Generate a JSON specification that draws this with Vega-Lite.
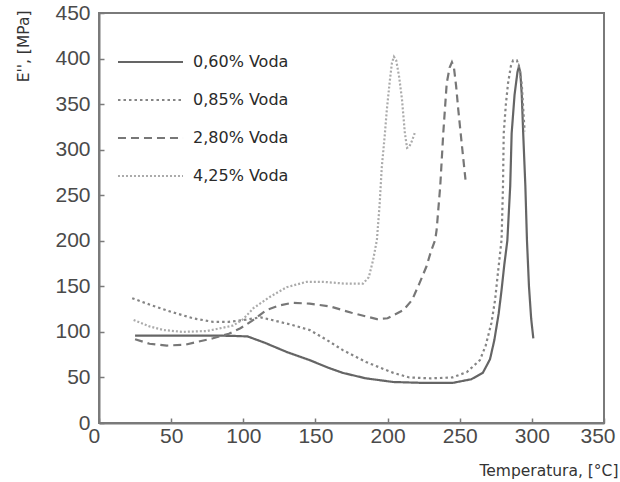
{
  "$schema": "https://vega.github.io/schema/vega-lite/v6.json",
  "autosize": "none",
  "padding": {"left": 99, "top": 13, "right": 16, "bottom": 59},
  "width": 505,
  "height": 410,
  "background": "white",
  "config": {
    "view": {"stroke": "#7a7a7a", "strokeWidth": 2},
    "axis": {"grid": false, "domainColor": "#7a7a7a", "domainWidth": 2, "tickColor": "#7a7a7a", "tickWidth": 1.5, "tickSize": -5, "labelFont": "Liberation Sans", "labelFontSize": 21, "labelColor": "#4a4a4a", "titleFont": "DejaVu Sans", "titleFontSize": 15.5, "titleFontWeight": "normal", "titleColor": "#333333"}
  },
  "data": {"values": [
    {"s": "0,60% Voda", "x": 25, "y": 96}, {"s": "0,60% Voda", "x": 40, "y": 96}, {"s": "0,60% Voda", "x": 60, "y": 96}, {"s": "0,60% Voda", "x": 80, "y": 96}, {"s": "0,60% Voda", "x": 95, "y": 95.5}, {"s": "0,60% Voda", "x": 103, "y": 95}, {"s": "0,60% Voda", "x": 115, "y": 88}, {"s": "0,60% Voda", "x": 130, "y": 78}, {"s": "0,60% Voda", "x": 146, "y": 69}, {"s": "0,60% Voda", "x": 160, "y": 60}, {"s": "0,60% Voda", "x": 169, "y": 55}, {"s": "0,60% Voda", "x": 185, "y": 49}, {"s": "0,60% Voda", "x": 204, "y": 45}, {"s": "0,60% Voda", "x": 225, "y": 44}, {"s": "0,60% Voda", "x": 245, "y": 44}, {"s": "0,60% Voda", "x": 258, "y": 48}, {"s": "0,60% Voda", "x": 266, "y": 55}, {"s": "0,60% Voda", "x": 271, "y": 70}, {"s": "0,60% Voda", "x": 274, "y": 91}, {"s": "0,60% Voda", "x": 277, "y": 120}, {"s": "0,60% Voda", "x": 279, "y": 146}, {"s": "0,60% Voda", "x": 281, "y": 175}, {"s": "0,60% Voda", "x": 283, "y": 200}, {"s": "0,60% Voda", "x": 285, "y": 260}, {"s": "0,60% Voda", "x": 286, "y": 318}, {"s": "0,60% Voda", "x": 288, "y": 360}, {"s": "0,60% Voda", "x": 290, "y": 385}, {"s": "0,60% Voda", "x": 291, "y": 391}, {"s": "0,60% Voda", "x": 292, "y": 385}, {"s": "0,60% Voda", "x": 293, "y": 360}, {"s": "0,60% Voda", "x": 294, "y": 318}, {"s": "0,60% Voda", "x": 295.5, "y": 260}, {"s": "0,60% Voda", "x": 296.6, "y": 201}, {"s": "0,60% Voda", "x": 298, "y": 150}, {"s": "0,60% Voda", "x": 299.5, "y": 115}, {"s": "0,60% Voda", "x": 301, "y": 93},
    {"s": "0,85% Voda", "x": 23, "y": 137}, {"s": "0,85% Voda", "x": 35, "y": 130}, {"s": "0,85% Voda", "x": 50, "y": 122}, {"s": "0,85% Voda", "x": 65, "y": 115}, {"s": "0,85% Voda", "x": 79, "y": 111}, {"s": "0,85% Voda", "x": 90, "y": 111}, {"s": "0,85% Voda", "x": 100, "y": 113}, {"s": "0,85% Voda", "x": 108, "y": 115}, {"s": "0,85% Voda", "x": 112, "y": 116}, {"s": "0,85% Voda", "x": 120, "y": 113}, {"s": "0,85% Voda", "x": 133, "y": 108}, {"s": "0,85% Voda", "x": 146, "y": 102}, {"s": "0,85% Voda", "x": 158, "y": 91}, {"s": "0,85% Voda", "x": 169, "y": 80}, {"s": "0,85% Voda", "x": 185, "y": 67}, {"s": "0,85% Voda", "x": 204, "y": 55}, {"s": "0,85% Voda", "x": 215, "y": 50}, {"s": "0,85% Voda", "x": 230, "y": 49}, {"s": "0,85% Voda", "x": 245, "y": 50}, {"s": "0,85% Voda", "x": 255, "y": 56}, {"s": "0,85% Voda", "x": 264, "y": 69}, {"s": "0,85% Voda", "x": 268, "y": 85}, {"s": "0,85% Voda", "x": 272, "y": 110}, {"s": "0,85% Voda", "x": 274.5, "y": 135}, {"s": "0,85% Voda", "x": 276.5, "y": 165}, {"s": "0,85% Voda", "x": 279, "y": 201}, {"s": "0,85% Voda", "x": 280, "y": 260}, {"s": "0,85% Voda", "x": 280.5, "y": 318}, {"s": "0,85% Voda", "x": 282, "y": 350}, {"s": "0,85% Voda", "x": 283.5, "y": 373}, {"s": "0,85% Voda", "x": 285.5, "y": 392}, {"s": "0,85% Voda", "x": 287, "y": 398}, {"s": "0,85% Voda", "x": 289.6, "y": 398}, {"s": "0,85% Voda", "x": 291, "y": 392}, {"s": "0,85% Voda", "x": 293, "y": 372}, {"s": "0,85% Voda", "x": 294, "y": 345}, {"s": "0,85% Voda", "x": 295, "y": 320},
    {"s": "2,80% Voda", "x": 25, "y": 92}, {"s": "2,80% Voda", "x": 35, "y": 87}, {"s": "2,80% Voda", "x": 47, "y": 85}, {"s": "2,80% Voda", "x": 60, "y": 86}, {"s": "2,80% Voda", "x": 79, "y": 93}, {"s": "2,80% Voda", "x": 90, "y": 98}, {"s": "2,80% Voda", "x": 98, "y": 104}, {"s": "2,80% Voda", "x": 106, "y": 112}, {"s": "2,80% Voda", "x": 116, "y": 124}, {"s": "2,80% Voda", "x": 125, "y": 129}, {"s": "2,80% Voda", "x": 134, "y": 132}, {"s": "2,80% Voda", "x": 146, "y": 131}, {"s": "2,80% Voda", "x": 160, "y": 128}, {"s": "2,80% Voda", "x": 175, "y": 121}, {"s": "2,80% Voda", "x": 192.6, "y": 114}, {"s": "2,80% Voda", "x": 200, "y": 115}, {"s": "2,80% Voda", "x": 211, "y": 124}, {"s": "2,80% Voda", "x": 217, "y": 135}, {"s": "2,80% Voda", "x": 222, "y": 153}, {"s": "2,80% Voda", "x": 227, "y": 172}, {"s": "2,80% Voda", "x": 230, "y": 188}, {"s": "2,80% Voda", "x": 233, "y": 201}, {"s": "2,80% Voda", "x": 234, "y": 212}, {"s": "2,80% Voda", "x": 236.5, "y": 260}, {"s": "2,80% Voda", "x": 238.6, "y": 318}, {"s": "2,80% Voda", "x": 241, "y": 373}, {"s": "2,80% Voda", "x": 243, "y": 390}, {"s": "2,80% Voda", "x": 244.6, "y": 396}, {"s": "2,80% Voda", "x": 246, "y": 390}, {"s": "2,80% Voda", "x": 247.5, "y": 370}, {"s": "2,80% Voda", "x": 249, "y": 344}, {"s": "2,80% Voda", "x": 251.5, "y": 305}, {"s": "2,80% Voda", "x": 254, "y": 267},
    {"s": "4,25% Voda", "x": 24, "y": 113}, {"s": "4,25% Voda", "x": 35, "y": 106}, {"s": "4,25% Voda", "x": 45, "y": 102}, {"s": "4,25% Voda", "x": 58, "y": 100}, {"s": "4,25% Voda", "x": 75, "y": 101}, {"s": "4,25% Voda", "x": 93, "y": 107}, {"s": "4,25% Voda", "x": 100, "y": 114}, {"s": "4,25% Voda", "x": 107, "y": 126}, {"s": "4,25% Voda", "x": 118, "y": 138}, {"s": "4,25% Voda", "x": 130, "y": 149}, {"s": "4,25% Voda", "x": 144, "y": 155}, {"s": "4,25% Voda", "x": 155, "y": 155}, {"s": "4,25% Voda", "x": 170, "y": 153}, {"s": "4,25% Voda", "x": 183, "y": 153}, {"s": "4,25% Voda", "x": 187, "y": 160}, {"s": "4,25% Voda", "x": 190, "y": 179}, {"s": "4,25% Voda", "x": 192.6, "y": 201}, {"s": "4,25% Voda", "x": 194.5, "y": 240}, {"s": "4,25% Voda", "x": 196, "y": 281}, {"s": "4,25% Voda", "x": 198, "y": 315}, {"s": "4,25% Voda", "x": 199.5, "y": 344}, {"s": "4,25% Voda", "x": 201.5, "y": 375}, {"s": "4,25% Voda", "x": 203, "y": 395}, {"s": "4,25% Voda", "x": 204.4, "y": 402}, {"s": "4,25% Voda", "x": 206, "y": 398}, {"s": "4,25% Voda", "x": 208, "y": 380}, {"s": "4,25% Voda", "x": 210, "y": 355}, {"s": "4,25% Voda", "x": 212, "y": 318}, {"s": "4,25% Voda", "x": 213.5, "y": 302}, {"s": "4,25% Voda", "x": 215, "y": 303}, {"s": "4,25% Voda", "x": 217, "y": 310}, {"s": "4,25% Voda", "x": 219, "y": 319}
  ]},
  "mark": {"type": "line", "strokeWidth": 2.2, "interpolate": "linear"},
  "encoding": {
    "x": {"field": "x", "type": "quantitative", "scale": {"domain": [0, 350], "nice": false},
      "axis": {"values": [0, 50, 100, 150, 200, 250, 300, 350], "labelPadding": 7, "title": "Temperatura, [°C]", "titleAnchor": "end", "titleAlign": "right", "titleX": 519, "titleY": 47, "titleBaseline": "middle", "labelFlush": true, "labelFlushOffset": 11}},
    "y": {"field": "y", "type": "quantitative", "scale": {"domain": [0, 450], "nice": false},
      "axis": {"values": [0, 50, 100, 150, 200, 250, 300, 350, 400, 450], "labelPadding": 14, "title": "E'', [MPa]", "titleAlign": "right", "titleX": -76, "titleY": -3, "titleBaseline": "middle", "labelFlush": false}},
    "color": {"field": "s", "type": "nominal", "title": null,
      "scale": {"domain": ["0,60% Voda", "0,85% Voda", "2,80% Voda", "4,25% Voda"], "range": ["#656565", "#858585", "#777777", "#ababab"]},
      "legend": {"orient": "none", "legendX": 39.5, "legendY": 37, "symbolType": "M-3,0H3", "symbolSize": 470, "symbolStrokeWidth": 2.2, "labelFont": "DejaVu Sans", "labelFontSize": 16, "labelColor": "#2a2a2a", "labelOffset": 30.5, "rowPadding": 18}},
    "strokeDash": {"field": "s", "type": "nominal", "title": null,
      "scale": {"domain": ["0,60% Voda", "0,85% Voda", "2,80% Voda", "4,25% Voda"], "range": [[1, 0], [2.5, 3], [8, 5], [2, 2]]}}
  }
}
